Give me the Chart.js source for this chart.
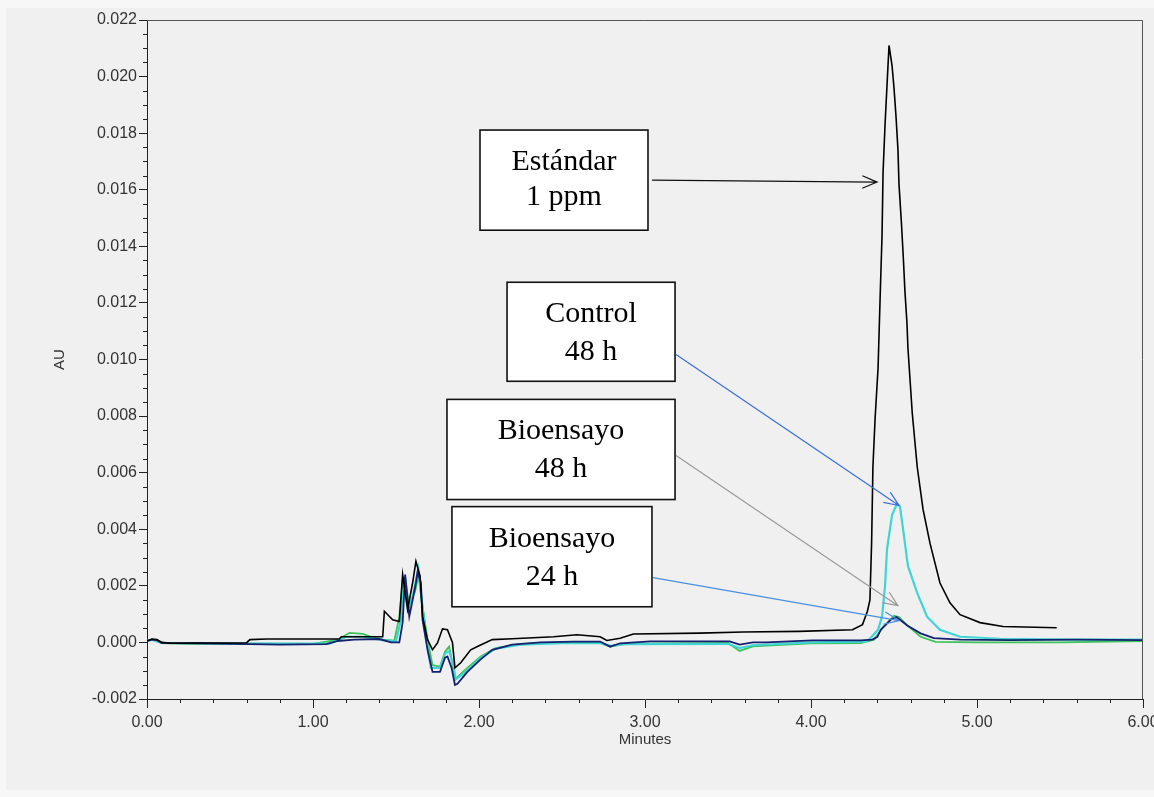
<!DOCTYPE html>
<html>
<head>
<meta charset="utf-8">
<script src="https://cdn.jsdelivr.net/npm/chart.js@4"></script>
<style>
  html, body { margin: 0; padding: 0; background: #f7f7f7; overflow: hidden; }
  #wrap { position: absolute; left: 0; top: 0; width: 1154px; height: 797px; }
  canvas { display: block; }
</style>
</head>
<body>
<div id="wrap"><canvas id="cromatograma" width="1154" height="797"></canvas></div>
<script>
const estandarMin = [0.00, 0.03, 0.06, 0.09, 0.15, 0.30, 0.45, 0.60, 0.62, 0.72, 1.00, 1.16, 1.17, 1.42, 1.43, 1.48, 1.52, 1.54, 1.57, 1.60, 1.62, 1.645, 1.66, 1.69, 1.72, 1.75, 1.78, 1.81, 1.84, 1.855, 1.89, 1.95, 2.00, 2.08, 2.20, 2.45, 2.59, 2.73, 2.77, 2.85, 2.93, 3.33, 3.59, 3.93, 4.25, 4.31, 4.34, 4.355, 4.365, 4.373, 4.386, 4.404, 4.416, 4.428, 4.434, 4.446, 4.458, 4.47, 4.488, 4.50, 4.512, 4.524, 4.53, 4.545, 4.557, 4.566, 4.578, 4.584, 4.61, 4.64, 4.675, 4.717, 4.777, 4.837, 4.898, 5.018, 5.157, 5.48];
const estandarAU = [0.00005, 0.00012, 0.0001, 0.0, -0.00003, -0.00002, -0.00002, -0.00001, 0.0001, 0.00012, 0.00012, 0.00012, 0.0002, 0.0002, 0.0011, 0.0008, 0.00074, 0.0024, 0.00116, 0.0021, 0.00287, 0.00234, 0.00092, 0.0001, -0.00026, -0.00002, 0.00048, 0.00045, 0.0, -0.0009, -0.00072, -0.00026, -0.00012, 0.0001, 0.00013, 0.0002, 0.00027, 0.0002, 0.00007, 0.00015, 0.0003, 0.00033, 0.00037, 0.00039, 0.00045, 0.00063, 0.0011, 0.0015, 0.0035, 0.0062, 0.0079, 0.0097, 0.0121, 0.0144, 0.0166, 0.0183, 0.0197, 0.0211, 0.0204, 0.0196, 0.0186, 0.0174, 0.0162, 0.0148, 0.0135, 0.0124, 0.0113, 0.0104, 0.0081, 0.0062, 0.0047, 0.0035, 0.0021, 0.0014, 0.00098, 0.0007, 0.00056, 0.00052];

const control48Min = [0.00, 0.03, 0.09, 0.50, 1.10, 1.20, 1.30, 1.42, 1.50, 1.53, 1.545, 1.57, 1.60, 1.62, 1.635, 1.655, 1.68, 1.71, 1.765, 1.795, 1.82, 1.845, 1.86, 1.93, 2.01, 2.10, 2.25, 2.50, 2.73, 2.79, 2.88, 3.50, 3.57, 3.65, 4.00, 4.33, 4.355, 4.404, 4.428, 4.446, 4.458, 4.488, 4.518, 4.536, 4.557, 4.584, 4.639, 4.699, 4.777, 4.898, 5.14, 5.60, 6.00];
const control48AU = [0.00005, 0.0001, -0.00002, -0.00004, -0.00004, 0.0002, 0.0002, 0.00008, 0.00003, 0.0008, 0.0023, 0.0012, 0.0016, 0.0022, 0.0026, 0.0015, 0.0002, -0.0009, -0.0009, -0.0004, -0.0003, -0.0008, -0.0013, -0.001, -0.00055, -0.00022, -0.00008, -0.00003, -0.00003, -0.00012, -0.00006, -0.00005, -0.0002, -0.0001, 0.0, 0.00003, 0.00013, 0.00045, 0.00091, 0.002, 0.0033, 0.0045, 0.0049, 0.0048, 0.0039, 0.0027, 0.00176, 0.00091, 0.00045, 0.0002, 0.00013, 0.0001, 0.0001];

const bio48Min = [0.00, 0.03, 0.09, 0.30, 0.60, 1.00, 1.15, 1.22, 1.30, 1.35, 1.42, 1.49, 1.52, 1.54, 1.555, 1.58, 1.60, 1.615, 1.635, 1.66, 1.69, 1.72, 1.765, 1.795, 1.82, 1.835, 1.855, 1.93, 2.01, 2.10, 2.25, 2.50, 2.73, 2.79, 2.88, 3.50, 3.57, 3.65, 3.85, 4.00, 4.30, 4.38, 4.43, 4.50, 4.53, 4.58, 4.66, 4.75, 5.00, 5.50, 6.00];
const bio48AU = [0.00005, 0.0001, -0.00002, -0.00005, -0.00004, -0.00005, 0.0001, 0.00034, 0.0003, 0.0002, 0.0001, 0.00006, 0.0009, 0.0022, 0.0023, 0.00126, 0.0016, 0.0018, 0.0024, 0.00126, 0.0001, -0.0008, -0.00086, -0.00033, -0.00015, -0.0006, -0.0013, -0.0009, -0.0005, -0.0002, -0.00005, 0.0, -0.00002, -0.00015, -0.00005, -0.00002, -0.0003, -0.00014, -0.00008, -0.00003, -0.00002, 0.0001, 0.0005, 0.00094, 0.0009, 0.0006, 0.0002, 0.00002, 0.0, 0.0, 0.00005];

const bio24Min = [0.00, 0.03, 0.06, 0.09, 0.30, 0.62, 0.80, 1.08, 1.15, 1.25, 1.40, 1.47, 1.52, 1.54, 1.555, 1.58, 1.60, 1.62, 1.63, 1.65, 1.66, 1.69, 1.72, 1.765, 1.795, 1.81, 1.835, 1.855, 1.87, 1.93, 2.01, 2.08, 2.20, 2.37, 2.57, 2.73, 2.79, 2.85, 3.03, 3.51, 3.57, 3.65, 3.73, 4.01, 4.30, 4.37, 4.40, 4.42, 4.48, 4.515, 4.58, 4.66, 4.74, 4.90, 5.20, 5.60, 6.00];
const bio24AU = [0.00005, 0.0001, 0.00008, -0.00002, -0.00003, -0.00006, -0.00008, -0.00006, 0.00005, 0.0001, 0.00012, 0.0, 0.0, 0.0007, 0.0024, 0.00092, 0.0015, 0.0021, 0.0025, 0.0021, 0.0008, -0.00026, -0.00104, -0.00104, -0.00054, -0.0005, -0.0009, -0.0015, -0.00146, -0.00104, -0.0006, -0.00026, -0.00008, 0.0, 0.00003, 0.00003, -0.00015, -0.00003, 0.00004, 0.00004, -0.00008, 0.0, 0.0, 0.00007, 0.00007, 0.0001, 0.0002, 0.00045, 0.0008, 0.0009, 0.0006, 0.00032, 0.00015, 0.0001, 0.00008, 0.0001, 0.00008];

// ejes
const minutosTicks = [0, 1, 2, 3, 4, 5, 6];
const auMin = -0.002, auMax = 0.022, auPaso = 0.002;

// === anotaciones (en unidades de datos) ===
const notaTextos = [['Estándar', '1 ppm'], ['Control', '48 h'], ['Bioensayo', '48 h'], ['Bioensayo', '24 h']];
const notaCajas = [[2.006, 3.018, 0.01811, 0.01457], [2.169, 3.181, 0.01273, 0.00923], [1.807, 3.181, 0.00859, 0.00505], [1.837, 3.042, 0.00480, 0.00126]];
const notaFlechas = [[3.042, 0.01634, 4.398, 0.01627], [3.187, 0.01018, 4.530, 0.00484], [3.187, 0.00661, 4.524, 0.00130], [3.048, 0.00229, 4.530, 0.00077]];
const notaColores = ['#111111', '#3a6fd8', '#9a9a9a', '#4a8fe0'];

const zip = (xs, ys) => xs.map((x, i) => ({ x: x, y: ys[i] }));

// fondo gris y marco del área
const fondo = {
  id: 'fondo',
  beforeDraw(chart) {
    const c = chart.ctx;
    c.save();
    c.fillStyle = '#f7f7f7';
    c.fillRect(0, 0, chart.width, chart.height);
    c.fillStyle = '#f0f0f0';
    c.fillRect(6, 8, chart.width - 6, chart.height - 15);
    c.restore();
  },
  afterDraw(chart) {
    const a = chart.chartArea, c = chart.ctx;
    c.save();
    c.strokeStyle = '#555';
    c.lineWidth = 1;
    c.beginPath();
    c.moveTo(a.left, a.top + 0.5);
    c.lineTo(a.right - 0.5, a.top + 0.5);
    c.lineTo(a.right - 0.5, a.bottom);
    c.stroke();
    c.restore();
  }
};

// marcas menores
const menores = {
  id: 'menores',
  afterDraw(chart) {
    const xs = chart.scales.x, ys = chart.scales.y, c = chart.ctx;
    c.save();
    c.strokeStyle = '#222';
    c.lineWidth = 1;
    c.beginPath();
    for (let i = 1; i < 30; i++) {
      if (i % 5 === 0) continue;
      const px = Math.round(xs.getPixelForValue(i / 5)) + 0.5;
      c.moveTo(px, xs.top);
      c.lineTo(px, xs.top + 4);
    }
    for (let i = -3; i < 44; i++) {
      if (i % 4 === 0) continue;
      const py = Math.round(ys.getPixelForValue(i * 0.0005)) + 0.5;
      c.moveTo(ys.right - 4, py);
      c.lineTo(ys.right, py);
    }
    c.stroke();
    c.restore();
  }
};

// cajas de texto con flechas
const notas = {
  id: 'notas',
  afterDraw(chart) {
    const xs = chart.scales.x, ys = chart.scales.y, c = chart.ctx;
    c.save();
    notaFlechas.forEach((f, i) => {
      const x0 = xs.getPixelForValue(f[0]), y0 = ys.getPixelForValue(f[1]);
      const x1 = xs.getPixelForValue(f[2]), y1 = ys.getPixelForValue(f[3]);
      const ang = Math.atan2(y1 - y0, x1 - x0);
      c.strokeStyle = notaColores[i];
      c.lineWidth = 1.2;
      c.beginPath();
      c.moveTo(x0, y0);
      c.lineTo(x1, y1);
      c.moveTo(x1 - 16 * Math.cos(ang - 0.4), y1 - 16 * Math.sin(ang - 0.4));
      c.lineTo(x1, y1);
      c.lineTo(x1 - 16 * Math.cos(ang + 0.4), y1 - 16 * Math.sin(ang + 0.4));
      c.stroke();
    });
    notaCajas.forEach((b, i) => {
      const l = xs.getPixelForValue(b[0]), r = xs.getPixelForValue(b[1]);
      const t = ys.getPixelForValue(b[2]), btm = ys.getPixelForValue(b[3]);
      c.fillStyle = '#ffffff';
      c.fillRect(l, t, r - l, btm - t);
      c.strokeStyle = '#111';
      c.lineWidth = 1.6;
      c.strokeRect(l, t, r - l, btm - t);
      c.fillStyle = '#000';
      c.font = '30px "Liberation Serif", "Times New Roman", serif';
      c.textAlign = 'center';
      c.textBaseline = 'alphabetic';
      const cx = (l + r) / 2;
      c.fillText(notaTextos[i][0], cx, t + 40);
      c.fillText(notaTextos[i][1], cx, t + (i === 0 ? 75 : 78));
    });
    c.restore();
  }
};

const fuenteTicks = { family: '"Liberation Sans", Arial, sans-serif', size: 16 };
const fuenteTitulo = { family: '"Liberation Sans", Arial, sans-serif', size: 15 };

new Chart(document.getElementById('cromatograma'), {
  type: 'line',
  data: {
    datasets: [{
      label: 'Estándar 1 ppm',
      data: zip(estandarMin, estandarAU),
      borderColor: '#000000',
      borderWidth: 1.6,
      order: 0
    }, {
      label: 'Bioensayo 24 h',
      data: zip(bio24Min, bio24AU),
      borderColor: '#15206e',
      borderWidth: 1.8,
      order: 1
    }, {
      label: 'Control 48 h',
      data: zip(control48Min, control48AU),
      borderColor: '#40d4d4',
      borderWidth: 2.2,
      order: 2
    }, {
      label: 'Bioensayo 48 h',
      data: zip(bio48Min, bio48AU),
      borderColor: '#3bc35a',
      borderWidth: 1.8,
      order: 3
    }]
  },
  options: {
    responsive: false,
    animation: false,
    devicePixelRatio: 1,
    elements: { point: { radius: 0 }, line: { tension: 0 } },
    layout: { padding: { left: 0, top: 20, right: 11, bottom: 0 } },
    plugins: { legend: { display: false }, tooltip: { enabled: false } },
    scales: {
      x: {
        type: 'linear',
        min: 0, max: 6,
        afterBuildTicks: s => { s.ticks = minutosTicks.map(v => ({ value: v })); },
        afterFit: s => { s.height = 98; s.paddingLeft = 0; s.paddingRight = 0; },
        ticks: { font: fuenteTicks, color: '#333', padding: 5, maxRotation: 0, callback: v => v.toFixed(2) },
        grid: { drawOnChartArea: false, tickLength: 9, tickColor: '#222' },
        border: { color: '#222', width: 1 },
        title: { display: true, text: 'Minutes', font: fuenteTitulo, color: '#333', padding: { top: 0, bottom: 48 } }
      },
      y: {
        min: auMin, max: auMax,
        ticks: { stepSize: auPaso, maxTicksLimit: 100, font: fuenteTicks, color: '#333', padding: 2, callback: v => v.toFixed(3) },
        afterFit: s => { s.width = 147; s.paddingTop = 0; s.paddingBottom = 0; },
        grid: { drawOnChartArea: false, tickLength: 8, tickColor: '#222' },
        border: { color: '#222', width: 1 },
        title: { display: true, text: 'AU', font: fuenteTitulo, color: '#333', padding: { top: 51, bottom: 0 } }
      }
    }
  },
  plugins: [fondo, menores, notas]
});
</script>
</body>
</html>
